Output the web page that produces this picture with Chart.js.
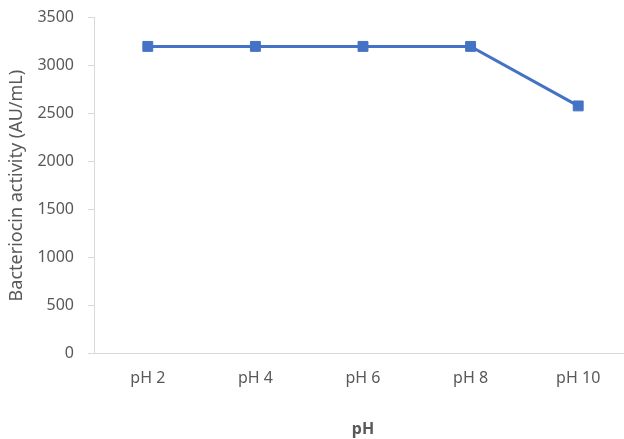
<!DOCTYPE html>
<html>
<head>
<meta charset="utf-8">
<script src="https://cdn.jsdelivr.net/npm/chart.js@4/dist/chart.umd.min.js"></script>
<style>
  html, body { margin: 0; padding: 0; background: #fff; overflow: hidden; }
  #wrap { width: 624px; height: 439px; overflow: hidden; position: relative; }
  canvas { display: block; position: absolute; left: 0; top: -6px; }
</style>
</head>
<body>
<div id="wrap"><canvas id="c" width="640" height="445"></canvas></div>
<script>
// pH tolerance of the bacteriocin
const phLabels = ['pH 2', 'pH 4', 'pH 6', 'pH 8', 'pH 10'];
const activity = [3200, 3200, 3200, 3200, 2580];
const yTicks = [0, 500, 1000, 1500, 2000, 2500, 3000, 3500];

const grey = '#595959';
const axisGrey = '#d9d9d9';
const blue = '#4472C4';

new Chart(document.getElementById('c'), {
  type: 'line',
  data: {
    labels: phLabels,
    datasets: [{
      data: activity,
      borderColor: blue,
      backgroundColor: blue,
      borderWidth: 3,
      pointStyle: 'rect',
      pointRadius: 7,
      pointBorderWidth: 1,
      pointBorderColor: blue,
      pointBackgroundColor: blue,
      tension: 0,
      fill: false
    }]
  },
  options: {
    responsive: false,
    devicePixelRatio: 1,
    animation: false,
    layout: { padding: { top: 4, right: 6, left: 6, bottom: 0 } },
    plugins: { legend: { display: false }, tooltip: { enabled: false } },
    scales: {
      x: {
        offset: true,
        grid: { display: false, drawTicks: false },
        border: { display: true, color: axisGrey, width: 1 },
        ticks: { color: grey, font: { family: 'Noto Sans', size: 16 }, padding: 15 },
        title: {
          display: true, text: 'pH', color: grey,
          font: { family: 'Noto Sans', size: 16, weight: 'bold' },
          padding: { top: 17, bottom: 0 }
        }
      },
      y: {
        min: 0, max: 3500,
        afterBuildTicks: (s) => { s.ticks = yTicks.map(v => ({ value: v })); },
        afterFit: (s) => { s.width = 88; },
        grid: { display: true, drawOnChartArea: false, drawTicks: true, tickLength: 6, color: axisGrey },
        border: { display: true, color: axisGrey, width: 1 },
        ticks: {
          color: grey, font: { family: 'Noto Sans', size: 16 }, padding: 14,
          callback: (v) => String(v)
        },
        title: {
          display: true, text: 'Bacteriocin activity (AU/mL)', color: grey,
          font: { family: 'Noto Sans', size: 18 },
          padding: { top: 0, bottom: 0 }
        }
      }
    }
  }
});
</script>
</body>
</html>
